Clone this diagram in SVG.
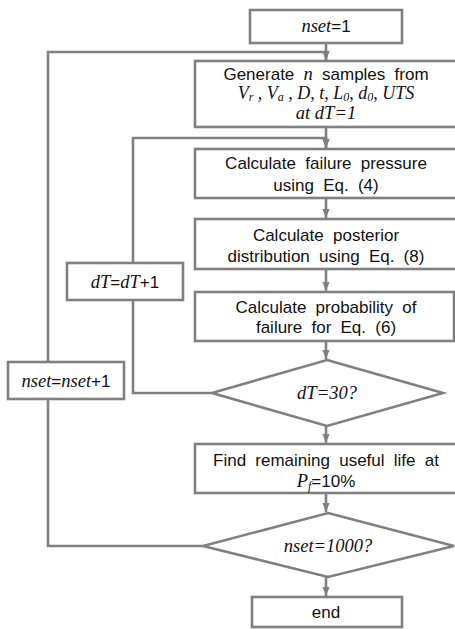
<svg xmlns="http://www.w3.org/2000/svg" width="455" height="629" viewBox="0 0 455 629">
<style>
.s{fill:#fff;stroke:#808080;stroke-width:2.6}
.c{fill:none;stroke:#808080;stroke-width:2.6}
.t{font-family:"Liberation Sans",Arial,sans-serif;font-size:17px;fill:#111;text-anchor:middle;word-spacing:4.5px}
.m{font-family:"Liberation Serif","Times New Roman",serif;font-style:italic;font-size:18.5px}
.b{font-size:12px}
</style>
<defs>
<marker id="a" viewBox="0 0 10 10" refX="10" refY="5" markerWidth="9" markerHeight="9" markerUnits="userSpaceOnUse" orient="auto">
<path d="M0,1 L10,5 L0,9 Z" fill="#808080"/>
</marker>
</defs>
<g id="connectors">
<path class="c" d="M326,43 V60" marker-end="url(#a)"/>
<path class="c" d="M203,546 H48 V52 H326 V60" marker-end="url(#a)"/>
<path class="c" d="M326,127 V148" marker-end="url(#a)"/>
<path class="c" d="M212,393 H133 V138 H326 V148" marker-end="url(#a)"/>
<path class="c" d="M326,198 V218" marker-end="url(#a)"/>
<path class="c" d="M326,269 V291" marker-end="url(#a)"/>
<path class="c" d="M326,341 V359" marker-end="url(#a)"/>
<path class="c" d="M326,426 V443" marker-end="url(#a)"/>
<path class="c" d="M326,493 V512" marker-end="url(#a)"/>
<path class="c" d="M326,577 V596" marker-end="url(#a)"/>
</g>
<g id="start">
<rect class="s" x="250" y="10" width="152" height="33"/>
<text class="t" x="326" y="32"><tspan class="m">nset</tspan>=1</text>
</g>
<g id="generate">
<rect class="s" x="195" y="61" width="264" height="66"/>
<text class="t" x="326" y="80">Generate <tspan class="m">n</tspan> samples from</text>
<text class="t m" x="326" y="99" style="word-spacing:0;font-size:18px">V<tspan class="b" dy="2">r</tspan><tspan dy="-2"> , V</tspan><tspan class="b" dy="2">a</tspan><tspan dy="-2"> , D, t, L</tspan><tspan class="b" dy="2">0</tspan><tspan dy="-2">, d</tspan><tspan class="b" dy="2">0</tspan><tspan dy="-2">, UTS</tspan></text>
<text class="t m" x="326" y="119" style="word-spacing:0">at dT=1</text>
</g>
<g id="failure">
<rect class="s" x="195" y="149" width="264" height="49"/>
<text class="t" x="326" y="169">Calculate failure pressure</text>
<text class="t" x="326" y="191">using Eq. (4)</text>
</g>
<g id="posterior">
<rect class="s" x="195" y="219" width="264" height="50"/>
<text class="t" x="326" y="241">Calculate posterior</text>
<text class="t" x="326" y="262">distribution using Eq. (8)</text>
</g>
<g id="probability">
<rect class="s" x="195" y="292" width="259" height="49"/>
<text class="t" x="326" y="313">Calculate probability of</text>
<text class="t" x="326" y="333">failure for Eq. (6)</text>
</g>
<g id="dt-check">
<polygon class="s" points="327,360 443,393 327,426 212,393"/>
<text class="t m" x="327" y="399" style="word-spacing:0">dT=30?</text>
</g>
<g id="dt-inc">
<rect class="s" x="67" y="263" width="116" height="37"/>
<text class="t" x="125" y="288"><tspan class="m">dT</tspan>=<tspan class="m">dT</tspan>+1</text>
</g>
<g id="nset-inc">
<rect class="s" x="8" y="362" width="116" height="37"/>
<text class="t" x="66" y="387"><tspan class="m">nset</tspan>=<tspan class="m">nset</tspan>+1</text>
</g>
<g id="rul">
<rect class="s" x="195" y="444" width="264" height="49"/>
<text class="t" x="326" y="466">Find remaining useful life at</text>
<text class="t" x="326" y="487"><tspan class="m">P<tspan class="b" dy="3">f</tspan></tspan><tspan dy="-3">=10%</tspan></text>
</g>
<g id="nset-check">
<polygon class="s" points="328,513 454,546 328,577 203,546"/>
<text class="t m" x="328" y="552" style="word-spacing:0">nset=1000?</text>
</g>
<g id="end">
<rect class="s" x="252" y="597" width="150" height="30"/>
<text class="t" x="326" y="618">end</text>
</g>
</svg>
